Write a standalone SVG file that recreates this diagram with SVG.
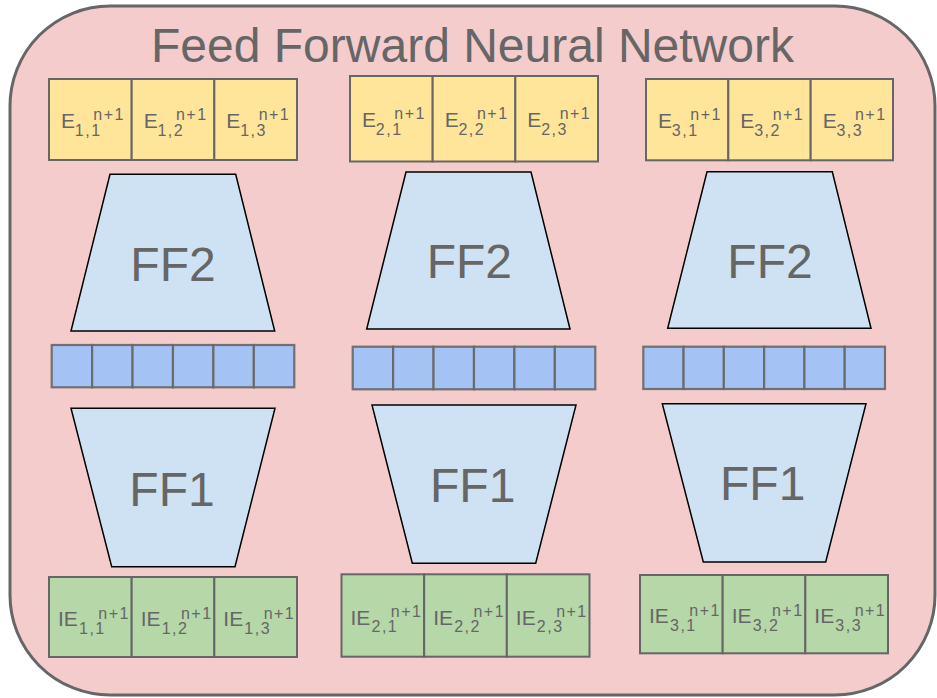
<svg xmlns="http://www.w3.org/2000/svg" width="937" height="698" viewBox="0 0 937 698">
<style>
.bg{fill:#f4cccc;stroke:#666666;stroke-width:3}
.title{font-family:"Liberation Sans",Arial,sans-serif;font-size:48px;fill:#666666;text-anchor:middle}
.ycell{fill:#ffe599;stroke:#666666;stroke-width:2}
.gcell{fill:#b6d7a8;stroke:#666666;stroke-width:2}
.bcell{fill:#a4c2f4;stroke:#666666;stroke-width:2.2;stroke-opacity:0.9}
.trap{fill:#cfe2f3;stroke:#000000;stroke-width:1.5}
.ff{font-family:"Liberation Sans",Arial,sans-serif;font-size:48px;fill:#666666;text-anchor:middle}
.lbl{font-family:"Liberation Sans",Arial,sans-serif;fill:#666666}
.m{font-size:21px}
.s{font-size:16px;letter-spacing:1.5px}
</style>
<rect class="bg" x="10" y="6" width="925" height="689" rx="100" ry="100"/>
<text class="title" x="472.5" y="62">Feed Forward Neural Network</text>

<g id="connectors"/>

<!-- Column 1 -->
<g id="E11"><rect class="ycell" x="49" y="79" width="82.67" height="81"/><text class="lbl"><tspan class="m" x="61" y="128">E</tspan><tspan class="s" x="74.8" y="135.5">1,1</tspan><tspan class="s" x="93.3" y="120">n+1</tspan></text></g>
<g id="E12"><rect class="ycell" x="131.67" y="79" width="82.67" height="81"/><text class="lbl"><tspan class="m" x="143.67" y="128">E</tspan><tspan class="s" x="157.47" y="135.5">1,2</tspan><tspan class="s" x="175.97" y="120">n+1</tspan></text></g>
<g id="E13"><rect class="ycell" x="214.33" y="79" width="82.67" height="81"/><text class="lbl"><tspan class="m" x="226.33" y="128">E</tspan><tspan class="s" x="240.13" y="135.5">1,3</tspan><tspan class="s" x="258.63" y="120">n+1</tspan></text></g>

<g id="FF2_1"><polygon class="trap" points="110,174.3 235.7,174.3 274.7,331 71,331"/><text class="ff" x="173" y="280.7">FF2</text></g>

<g id="H1">
<rect class="bcell" x="51.7" y="345" width="40.43" height="42.3"/>
<rect class="bcell" x="92.13" y="345" width="40.43" height="42.3"/>
<rect class="bcell" x="132.56" y="345" width="40.43" height="42.3"/>
<rect class="bcell" x="172.99" y="345" width="40.43" height="42.3"/>
<rect class="bcell" x="213.42" y="345" width="40.43" height="42.3"/>
<rect class="bcell" x="253.85" y="345" width="40.43" height="42.3"/>
</g>

<g id="FF1_1"><polygon class="trap" points="71,408.3 275,408.3 235,566.7 111.7,566.7"/><text class="ff" x="172" y="505.7">FF1</text></g>

<g id="IE11"><rect class="gcell" x="49" y="577" width="82.67" height="80"/><text class="lbl"><tspan class="m" x="58" y="626">IE</tspan><tspan class="s" x="79" y="633.5">1,1</tspan><tspan class="s" x="98.3" y="618.5">n+1</tspan></text></g>
<g id="IE12"><rect class="gcell" x="131.67" y="577" width="82.67" height="80"/><text class="lbl"><tspan class="m" x="140.67" y="626">IE</tspan><tspan class="s" x="161.67" y="633.5">1,2</tspan><tspan class="s" x="180.97" y="618.5">n+1</tspan></text></g>
<g id="IE13"><rect class="gcell" x="214.33" y="577" width="82.67" height="80"/><text class="lbl"><tspan class="m" x="223.33" y="626">IE</tspan><tspan class="s" x="244.33" y="633.5">1,3</tspan><tspan class="s" x="263.63" y="618.5">n+1</tspan></text></g>

<!-- Column 2 -->
<g id="E21"><rect class="ycell" x="350" y="76" width="82.67" height="85.5"/><text class="lbl"><tspan class="m" x="362" y="127.2">E</tspan><tspan class="s" x="375.8" y="134.7">2,1</tspan><tspan class="s" x="394.3" y="119.2">n+1</tspan></text></g>
<g id="E22"><rect class="ycell" x="432.67" y="76" width="82.67" height="85.5"/><text class="lbl"><tspan class="m" x="444.67" y="127.2">E</tspan><tspan class="s" x="458.47" y="134.7">2,2</tspan><tspan class="s" x="476.97" y="119.2">n+1</tspan></text></g>
<g id="E23"><rect class="ycell" x="515.33" y="76" width="82.67" height="85.5"/><text class="lbl"><tspan class="m" x="527.33" y="127.2">E</tspan><tspan class="s" x="541.13" y="134.7">2,3</tspan><tspan class="s" x="559.63" y="119.2">n+1</tspan></text></g>

<g id="FF2_2"><polygon class="trap" points="406,172 531,172 570,329 366.7,329"/><text class="ff" x="469.3" y="278">FF2</text></g>

<g id="H2">
<rect class="bcell" x="352.7" y="346.7" width="40.43" height="42.6"/>
<rect class="bcell" x="393.13" y="346.7" width="40.43" height="42.6"/>
<rect class="bcell" x="433.56" y="346.7" width="40.43" height="42.6"/>
<rect class="bcell" x="473.99" y="346.7" width="40.43" height="42.6"/>
<rect class="bcell" x="514.42" y="346.7" width="40.43" height="42.6"/>
<rect class="bcell" x="554.85" y="346.7" width="40.43" height="42.6"/>
</g>

<g id="FF1_2"><polygon class="trap" points="372,405 576,405 535.7,563.3 412.3,563.3"/><text class="ff" x="472.7" y="501.7">FF1</text></g>

<g id="IE21"><rect class="gcell" x="341.5" y="574.3" width="82.67" height="82.4"/><text class="lbl"><tspan class="m" x="350.5" y="624.5">IE</tspan><tspan class="s" x="371.5" y="632">2,1</tspan><tspan class="s" x="390.8" y="617">n+1</tspan></text></g>
<g id="IE22"><rect class="gcell" x="424.17" y="574.3" width="82.67" height="82.4"/><text class="lbl"><tspan class="m" x="433.17" y="624.5">IE</tspan><tspan class="s" x="454.17" y="632">2,2</tspan><tspan class="s" x="473.47" y="617">n+1</tspan></text></g>
<g id="IE23"><rect class="gcell" x="506.83" y="574.3" width="82.67" height="82.4"/><text class="lbl"><tspan class="m" x="515.83" y="624.5">IE</tspan><tspan class="s" x="536.83" y="632">2,3</tspan><tspan class="s" x="556.13" y="617">n+1</tspan></text></g>

<!-- Column 3 -->
<g id="E31"><rect class="ycell" x="646" y="79" width="82.33" height="81.3"/><text class="lbl"><tspan class="m" x="658" y="128.1">E</tspan><tspan class="s" x="671.8" y="135.6">3,1</tspan><tspan class="s" x="690.3" y="120.1">n+1</tspan></text></g>
<g id="E32"><rect class="ycell" x="728.33" y="79" width="82.33" height="81.3"/><text class="lbl"><tspan class="m" x="740.33" y="128.1">E</tspan><tspan class="s" x="754.13" y="135.6">3,2</tspan><tspan class="s" x="772.63" y="120.1">n+1</tspan></text></g>
<g id="E33"><rect class="ycell" x="810.67" y="79" width="82.33" height="81.3"/><text class="lbl"><tspan class="m" x="822.67" y="128.1">E</tspan><tspan class="s" x="836.47" y="135.6">3,3</tspan><tspan class="s" x="854.97" y="120.1">n+1</tspan></text></g>

<g id="FF2_3"><polygon class="trap" points="707,171.7 832.3,171.7 871,328.3 667.7,328.3"/><text class="ff" x="770" y="278.3">FF2</text></g>

<g id="H3">
<rect class="bcell" x="643.3" y="346.7" width="40.28" height="42.3"/>
<rect class="bcell" x="683.58" y="346.7" width="40.28" height="42.3"/>
<rect class="bcell" x="723.86" y="346.7" width="40.28" height="42.3"/>
<rect class="bcell" x="764.14" y="346.7" width="40.28" height="42.3"/>
<rect class="bcell" x="804.42" y="346.7" width="40.28" height="42.3"/>
<rect class="bcell" x="844.7" y="346.7" width="40.28" height="42.3"/>
</g>

<g id="FF1_3"><polygon class="trap" points="662.3,403.7 866,403.7 825.7,562 703.3,562"/><text class="ff" x="762.7" y="500">FF1</text></g>

<g id="IE31"><rect class="gcell" x="640" y="575" width="82.67" height="78.3"/><text class="lbl"><tspan class="m" x="649" y="623.2">IE</tspan><tspan class="s" x="670" y="630.7">3,1</tspan><tspan class="s" x="689.3" y="615.7">n+1</tspan></text></g>
<g id="IE32"><rect class="gcell" x="722.67" y="575" width="82.67" height="78.3"/><text class="lbl"><tspan class="m" x="731.67" y="623.2">IE</tspan><tspan class="s" x="752.67" y="630.7">3,2</tspan><tspan class="s" x="771.97" y="615.7">n+1</tspan></text></g>
<g id="IE33"><rect class="gcell" x="805.33" y="575" width="82.67" height="78.3"/><text class="lbl"><tspan class="m" x="814.33" y="623.2">IE</tspan><tspan class="s" x="835.33" y="630.7">3,3</tspan><tspan class="s" x="854.63" y="615.7">n+1</tspan></text></g>
</svg>
